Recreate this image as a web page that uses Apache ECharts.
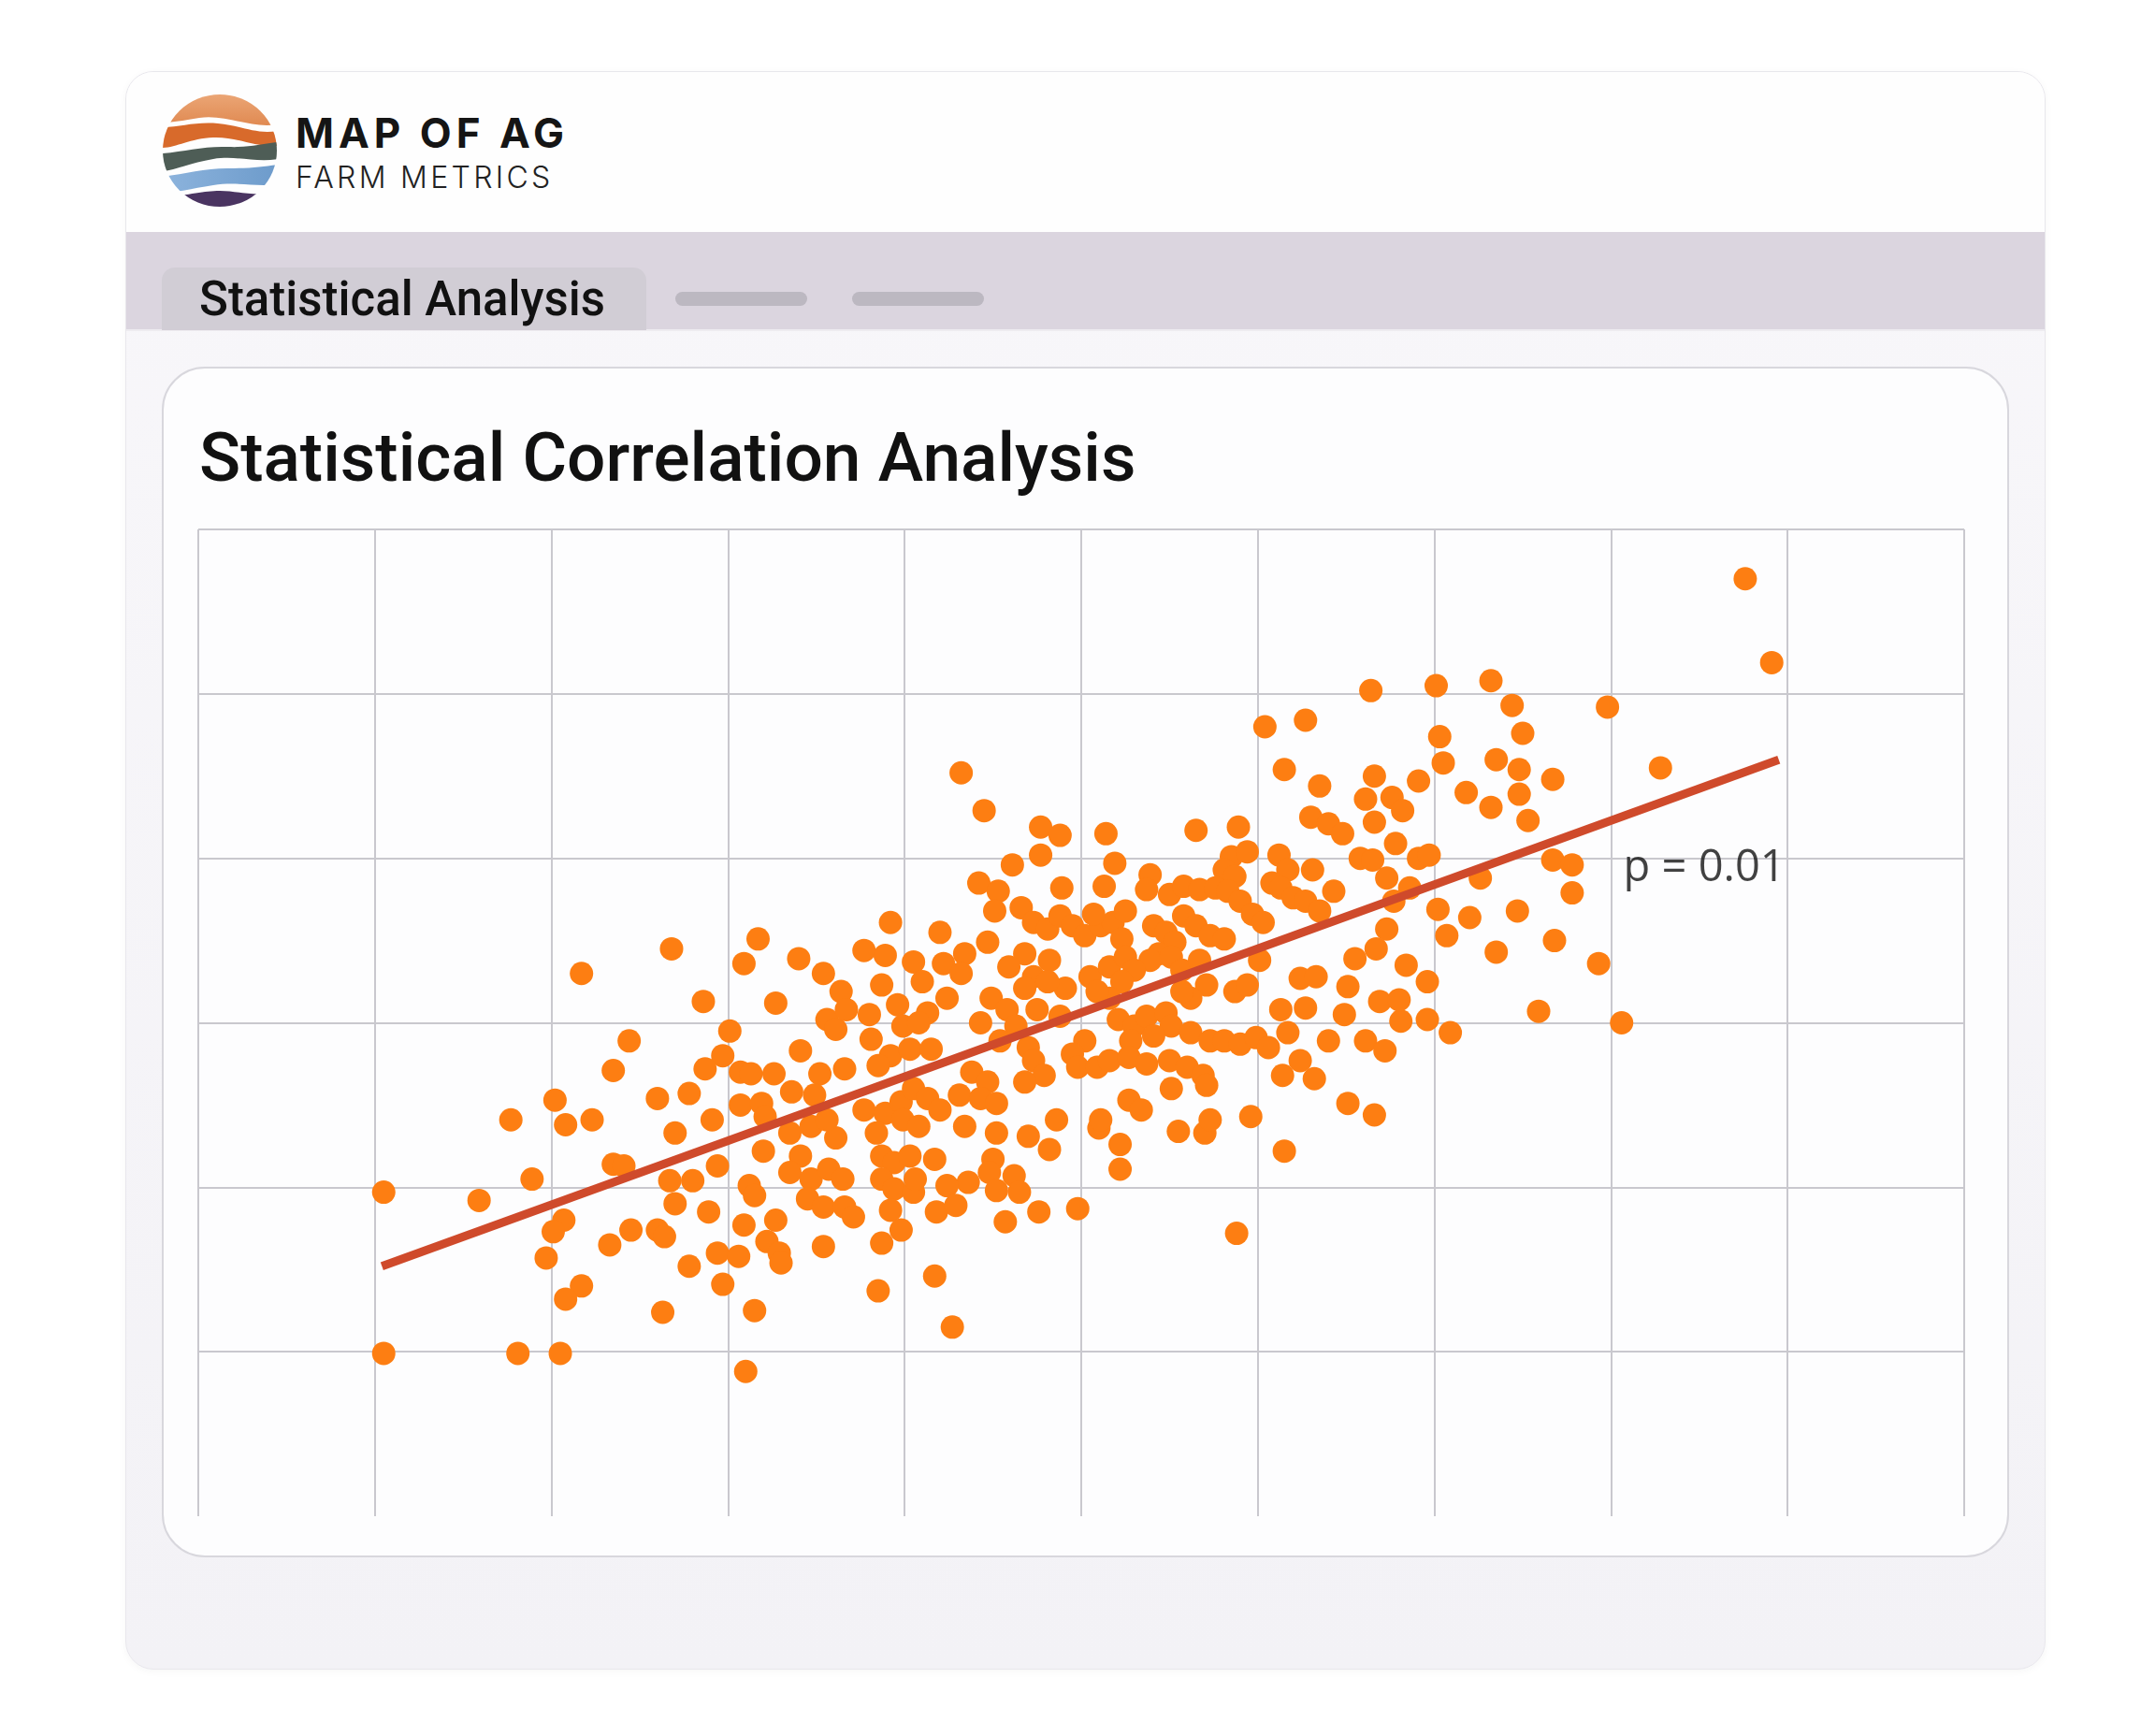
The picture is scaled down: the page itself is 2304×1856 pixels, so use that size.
<!DOCTYPE html>
<html style="height: 100%">
<head>
<meta charset="utf-8">
<script src="https://cdn.jsdelivr.net/npm/echarts@6/dist/echarts.min.js"></script>
<style>
  body { margin: 0; width: 2304px; height: 1856px; background: #fff; position: relative; overflow: hidden; font-family: Roboto, sans-serif; }
  .abs { position: absolute; box-sizing: border-box; }
  .outer { left: 134px; top: 76px; width: 2053px; height: 1709px; border-radius: 30px; overflow: hidden;
           background: linear-gradient(#f8f7fa, #f3f2f6); border: 1.5px solid #e8e7ec; box-shadow: 0 2px 8px rgba(0,0,0,0.04); }
  .header { left: 0; top: 0; width: 100%; height: 171px; background: #fefefe; }
  .tabbar { left: 0; top: 171px; width: 100%; height: 106px; background: #dbd5df; border-bottom: 2px solid #eeecf0; }
  .tab { left: 173px; top: 286px; width: 518px; height: 67px; background: #d1cdd5; border-radius: 14px 14px 0 0; }
  .pill { top: 312px; width: 141px; height: 15px; border-radius: 8px; background: #bcb8c1; }
  .inner { left: 173px; top: 392px; width: 1975px; height: 1273px; border-radius: 46px; background: #fdfdfe; border: 2px solid #d8d7dd; }
  .txt { line-height: 1; white-space: nowrap; }
</style>
</head>
<body>
<div class="abs outer">
  <div class="abs header"></div>
  <div class="abs tabbar"></div>
</div>

<svg class="abs" style="left:173px;top:100px" width="124" height="122" viewBox="0 0 124 122">
  <defs>
    <clipPath id="disc"><ellipse cx="62" cy="61" rx="61" ry="60"/></clipPath>
    <linearGradient id="peach" x1="0" y1="0" x2="0" y2="1">
      <stop offset="0" stop-color="#eba676"/><stop offset="1" stop-color="#e08a52"/>
    </linearGradient>
    <linearGradient id="sky" x1="0" y1="0" x2="1" y2="0">
      <stop offset="0" stop-color="#8db4dd"/><stop offset="1" stop-color="#6d9bcb"/>
    </linearGradient>
  </defs>
  <g clip-path="url(#disc)">
    <path d="M0,0 H124 V33 C95,38 70,22 40,26 C25,28 10,32 0,30 Z" fill="url(#peach)"/>
    <path d="M0,36 C20,36 35,30 60,32 C85,34 100,44 124,40 V56 C100,58 80,46 55,47 C30,48 15,58 0,58 Z" fill="#d86a2b"/>
    <path d="M0,64 C25,62 45,56 70,57 C95,58 105,54 124,52 V70 C100,74 80,66 55,70 C30,74 15,82 0,83 Z" fill="#4e5d56"/>
    <path d="M0,89 C25,86 45,80 70,80 C95,80 108,78 124,76 V97 C100,100 80,94 55,98 C30,102 15,106 0,106 Z" fill="url(#sky)"/>
    <path d="M0,112 C30,108 45,104 62,104 C80,104 95,110 124,106 V122 H0 Z" fill="#4a3461"/>
  </g>
</svg>

<div class="abs txt" style="left:316px;top:120px;font-family:Inter,sans-serif;font-weight:700;font-size:44px;letter-spacing:5px;color:#151515">MAP OF AG</div>
<div class="abs txt" style="left:316px;top:174px;font-family:Inter,sans-serif;font-weight:300;font-size:32px;letter-spacing:3.3px;color:#222">FARM METRICS</div>

<div class="abs tab"></div>
<div class="abs txt" style="left:213px;top:294px;font-size:51px;font-weight:500;color:#111">Statistical Analysis</div>
<div class="abs pill" style="left:722px"></div>
<div class="abs pill" style="left:911px"></div>

<div class="abs inner"></div>
<div class="abs txt" style="left:213px;top:453px;font-size:73px;font-weight:500;color:#111">Statistical Correlation Analysis</div>

<div id="container" class="abs" style="left:173px;top:392px;width:1975px;height:1273px"></div>

<script type="text/javascript">
// points, [x, y] in grid units, grouped by area
var leftPts = [
  [2.17,3.30],[2.68,3.45],[3.17,3.51],[3.09,3.36],[3.40,3.39],[3.54,3.30],[2.86,3.13],[3.27,3.12],[3.64,3.19],[3.56,3.02],
  [3.61,2.96],[3.01,2.95],[2.44,2.89],[2.35,2.71],[2.97,2.80],[2.87,2.72],[3.07,2.70],[3.13,2.69],[3.26,2.69],[3.41,2.83],
  [3.52,2.69],[3.66,2.72],[3.36,2.58],[3.49,2.56],[2.02,2.53],[2.60,2.54],[2.78,2.57],[3.07,2.50],[3.19,2.51],[1.77,2.41],
  [2.08,2.38],[2.23,2.41],[2.91,2.41],[2.70,2.33],[3.21,2.43],[3.35,2.33],[3.47,2.37],[3.61,2.30],[3.56,2.41],[3.20,2.22],
  [3.41,2.19],[3.35,2.09],[3.47,2.05],[3.57,2.11],[3.65,2.05],[2.35,2.14],[2.41,2.13],[2.94,2.13],[1.89,2.05],[2.67,2.04],
  [2.80,2.04],[3.12,2.01],[3.15,1.95],[3.45,1.93],[3.54,1.88],[3.66,1.88],[1.05,1.97],[1.59,1.92],[2.70,1.90],[2.89,1.85],
  [2.07,1.80],[2.01,1.73],[3.09,1.77],[3.27,1.80],[2.45,1.74],[2.60,1.74],[2.64,1.70],[2.33,1.65],[3.22,1.67],[3.29,1.60],
  [3.30,1.54],[3.54,1.64],[1.97,1.57],[2.94,1.60],[3.06,1.58],[2.78,1.52],[2.97,1.41],[2.17,1.40],[2.08,1.32],[2.63,1.24],
  [3.15,1.25],[1.05,0.99],[1.81,0.99],[2.05,0.99],[3.10,0.88]
];
var midPts = [
  [3.92,3.61],[3.77,3.44],[3.89,3.41],[4.05,3.37],[4.10,3.25],[3.87,3.23],[3.67,3.08],[3.80,3.05],[3.81,2.90],[4.13,3.06],
  [3.96,3.11],[3.99,2.98],[4.08,3.00],[3.92,2.80],[3.85,2.74],[4.03,2.84],[4.15,2.84],[3.77,2.47],[3.89,2.45],[3.98,2.52],
  [4.05,2.60],[4.13,2.54],[3.84,2.33],[3.99,2.41],[4.08,2.37],[3.87,2.19],[3.94,2.15],[4.03,2.19],[3.87,2.05],[3.94,1.99],
  [4.05,1.97],[4.06,2.05],[3.71,1.82],[3.92,1.86],[3.98,1.74],[3.87,1.66],[3.85,1.37],
  [4.34,2.37],[4.52,2.33],[4.70,2.31],[4.82,2.23],[5.10,2.36],[5.22,2.26],[5.22,2.11],[5.55,2.34],[5.70,2.33],[6.15,2.22],
  [4.17,2.17],[4.50,2.17],[4.48,2.09],[4.62,2.07],[4.65,1.97],[4.52,1.98],[4.36,2.03],[4.24,2.01],[4.18,1.85],[4.29,1.89],
  [4.57,1.79],[4.76,1.85],[4.98,1.87],[5.88,1.72],[4.17,1.46],[4.27,1.15]
];
var corePts = [
  [4.77,4.19],[4.88,4.14],[5.14,4.15],[5.65,4.17],[5.89,4.19],[4.61,3.96],[4.77,4.02],[5.19,3.97],[5.39,3.90],[5.37,3.81],
  [4.42,3.85],[4.53,3.80],[4.89,3.82],[5.13,3.83],[5.85,4.01],[5.94,4.04],[5.81,3.93],[5.87,3.89],[6.12,4.02],[6.17,3.93],
  [6.08,3.85],[6.13,3.82],[6.20,3.76],[6.31,3.93],[6.27,3.74],[6.35,3.68],[5.50,3.78],[5.58,3.83],[5.67,3.81],[5.76,3.82],
  [5.83,3.80],[5.90,3.74],[5.97,3.66],[6.03,3.61],[5.58,3.65],[5.65,3.59],[5.73,3.53],[5.81,3.51],[4.51,3.68],[4.66,3.70],
  [4.73,3.61],[4.81,3.57],[4.88,3.65],[4.95,3.59],[5.02,3.53],[5.11,3.59],[5.18,3.61],[5.23,3.51],[5.07,3.66],[5.25,3.68],
  [5.41,3.59],[5.48,3.55],[5.53,3.49],[5.44,3.42],[5.39,3.38],[4.47,3.49],[4.34,3.42],[4.20,3.55],[4.22,3.36],[4.32,3.30],
  [4.68,3.42],[4.59,3.34],[4.82,3.38],[4.73,3.28],[4.68,3.21],[4.91,3.21],[4.81,3.25],[5.05,3.28],[5.16,3.34],[5.25,3.40],
  [5.30,3.32],[5.23,3.25],[5.16,3.15],[5.09,3.19],[5.51,3.40],[5.57,3.32],[5.67,3.38],[5.71,3.23],[5.62,3.15],[5.57,3.19],
  [6.01,3.38],[5.87,3.19],[5.94,3.23],[6.24,3.27],[6.33,3.28],[6.13,3.08],[6.27,3.09],[4.24,3.15],[4.49,3.15],[4.58,3.08],
  [4.43,3.00],[4.63,2.98],[4.54,2.89],[4.88,3.04],[4.75,3.08],[5.21,3.02],[5.30,2.98],[5.37,3.04],[5.48,3.06],[5.51,2.98],
  [5.41,2.92],[5.28,2.89],[5.62,2.94],[5.73,2.89],[5.81,2.89],[5.90,2.87],[5.99,2.91],[6.06,2.85],[6.17,2.94],[6.40,2.89],
  [5.02,2.89],[4.95,2.81],[4.98,2.73],[5.09,2.73],[5.16,2.77],[5.27,2.79],[5.37,2.75],[5.50,2.77],[5.60,2.73],[5.69,2.68],
  [5.71,2.62],[5.51,2.60],[4.70,2.85],[4.73,2.77],[4.79,2.68],[4.68,2.64],[4.38,2.70],[4.47,2.64],[4.31,2.56],[4.43,2.54],
  [4.52,2.51],[4.20,2.47],[5.27,2.53],[5.34,2.47],[6.24,2.77],[6.14,2.68],[6.32,2.66],[5.96,2.43],[5.73,2.41],[4.86,2.41],
  [5.11,2.41]
];
var upperPts = [
  [6.64,5.02],[6.04,4.80],[6.27,4.84],[4.32,4.52],[4.45,4.29],[6.15,4.54],[6.35,4.44],[6.66,4.50],[6.91,4.47],[6.61,4.36],
  [6.76,4.37],[6.82,4.29],[6.66,4.22],[6.78,4.09],[6.30,4.25],[6.40,4.21],[6.48,4.15],[6.58,4.00],[6.65,3.99],[6.73,3.88],
  [6.43,3.80],[6.91,4.00],[6.77,3.74],[6.73,3.57],[6.86,3.82]
];
var rightPts = [
  [8.76,5.70],[8.91,5.19],[7.01,5.05],[7.32,5.08],[7.44,4.93],[7.98,4.92],[7.50,4.76],[7.03,4.74],[7.05,4.58],[7.35,4.60],
  [7.48,4.54],[7.67,4.48],[7.18,4.40],[7.32,4.31],[7.48,4.39],[7.53,4.23],[8.28,4.55],[6.97,4.02],[7.02,3.69],[7.20,3.64],
  [7.47,3.68],[7.26,3.88],[7.67,3.99],[7.78,3.96],[7.78,3.79],[7.07,3.53],[7.35,3.43],[7.68,3.50],[7.93,3.36],[7.59,3.07],
  [8.06,3.00],[7.09,2.94],[6.96,3.25],[6.84,3.35],[6.96,3.02],[6.81,3.01],[6.69,3.13],[6.80,3.14],[6.67,3.45],[6.55,3.39],
  [6.51,3.22],[6.49,3.05],[6.61,2.89],[6.72,2.83],[6.51,2.51],[6.66,2.44]
];
// fitted trend line ends and the p-value note
var fitPts = [[1.04, 1.52], [8.95, 4.60]];
var notePt = [8.07, 3.94];
var noteText = "p = 0.01";

var dom = document.getElementById("container");
var myChart = echarts.init(dom);

var points = leftPts.concat(midPts, corePts, upperPts, rightPts);

var option = {
  backgroundColor: 'transparent',
  animation: false,
  grid: { left: 39, top: 174, width: 1888, height: 1055 },
  xAxis: {
    type: 'value', min: 0, max: 10, interval: 1,
    axisLine: { show: false }, axisTick: { show: false }, axisLabel: { show: false },
    splitLine: { show: true, lineStyle: { color: '#c9c8ce', width: 2 } }
  },
  yAxis: {
    type: 'value', min: 0, max: 6, interval: 1,
    axisLine: { show: false }, axisTick: { show: false }, axisLabel: { show: false },
    splitLine: { show: true, showMinLine: false, lineStyle: { color: '#c9c8ce', width: 2 } }
  },
  series: [
    {
      type: 'scatter',
      data: points,
      symbolSize: 25,
      itemStyle: { color: '#fd7e12', opacity: 1 },
      z: 2
    },
    {
      type: 'line',
      data: fitPts,
      symbol: 'none',
      lineStyle: { color: '#cf4a2b', width: 9 },
      z: 3
    },
    {
      type: 'scatter',
      data: [notePt],
      symbolSize: 0,
      z: 4,
      label: {
        show: true, position: 'right', distance: 0,
        formatter: noteText,
        fontFamily: 'Open Sans', fontSize: 47, color: '#111'
      }
    }
  ]
};

if (option && typeof option === "object") {
  myChart.setOption(option, true);
}
</script>
</body>
</html>
